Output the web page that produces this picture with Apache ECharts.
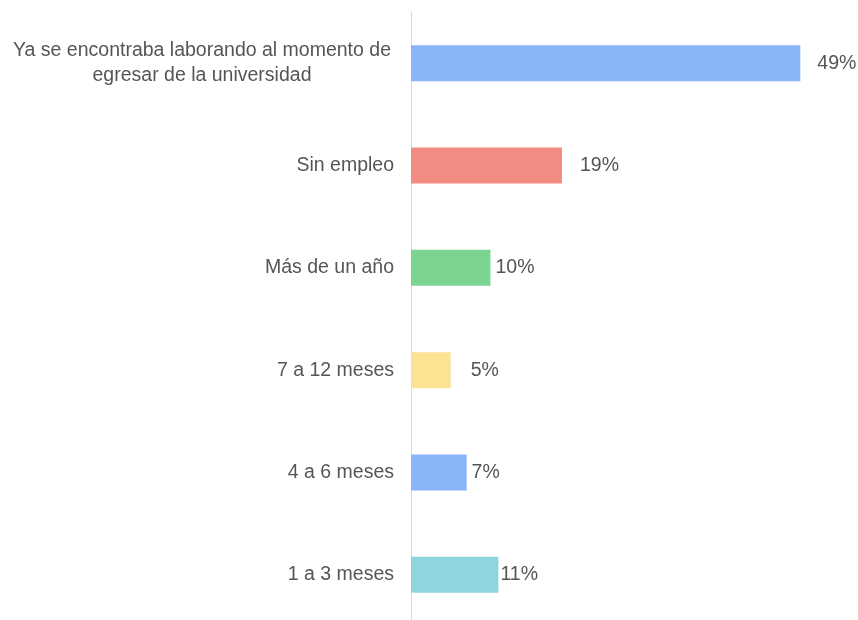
<!DOCTYPE html>
<html>
<head>
<meta charset="utf-8">
<script src="https://cdn.jsdelivr.net/npm/echarts@6/dist/echarts.min.js"></script>
<style>
  html, body { margin: 0; padding: 0; background: #fff; }
  #chart { width: 858px; height: 620px; }
</style>
</head>
<body>
<div id="chart"></div>
<script>
  // categorías (de arriba hacia abajo)
  const categories = [
    'Ya se encontraba laborando al momento de egresar de la universidad',
    'Sin empleo',
    'Más de un año',
    '7 a 12 meses',
    '4 a 6 meses',
    '1 a 3 meses'
  ]
  const values = [49, 19, 10, 5, 7, 11] // %
  const barColors = ['#8AB4F8', '#F28B82', '#7BD591', '#FCE293', '#8AB4F8', '#8ED6DE']
  const labelGaps = [17, 18, 5, 20, 5, 2] // separación etiqueta-barra

  const textColor = '#555555'
  const font = 'Liberation Sans, Arial, sans-serif'

  // parte el texto largo en varias líneas
  function wrap(text, maxChars) {
    const words = text.split(' ')
    const lines = []
    let line = ''
    words.forEach(w => {
      const t = line ? line + ' ' + w : w
      if (t.length > maxChars && line) {
        lines.push(line)
        line = w
      } else {
        line = t
      }
    })
    if (line) lines.push(line)
    return lines
  }

  const chart = echarts.init(document.getElementById('chart'))

  const option = {
    animation: false,
    grid: {
      left: 411,
      top: 12,
      width: 437,
      height: 614,
      outerBoundsMode: 'none',
      containLabel: false
    },
    xAxis: {
      type: 'value',
      min: 0,
      max: 55,
      show: false
    },
    yAxis: {
      type: 'category',
      inverse: true,
      data: categories,
      axisTick: { show: false },
      axisLine: {
        show: true,
        lineStyle: { color: '#D9D9D9', width: 1 }
      },
      axisLabel: {
        interval: 0,
        margin: 17,
        color: textColor,
        fontSize: 19.5,
        fontFamily: font,
        formatter: function (value) {
          const lines = wrap(value, 41)
          if (lines.length === 1) return value
          return lines.map(l => '{c|' + l + '}').join('\n')
        },
        rich: {
          c: {
            width: 384,
            align: 'center',
            lineHeight: 25,
            color: textColor,
            fontSize: 19.5,
            fontFamily: font
          }
        }
      }
    },
    series: [
      {
        type: 'bar',
        barWidth: 36,
        data: values.map((v, i) => ({
          value: v,
          itemStyle: { color: barColors[i] },
          label: { distance: labelGaps[i] }
        })),
        label: {
          show: true,
          position: 'right',
          color: textColor,
          fontSize: 19.5,
          fontFamily: font,
          formatter: p => p.value + '%'
        }
      }
    ]
  }

  chart.setOption(option)
</script>
</body>
</html>
